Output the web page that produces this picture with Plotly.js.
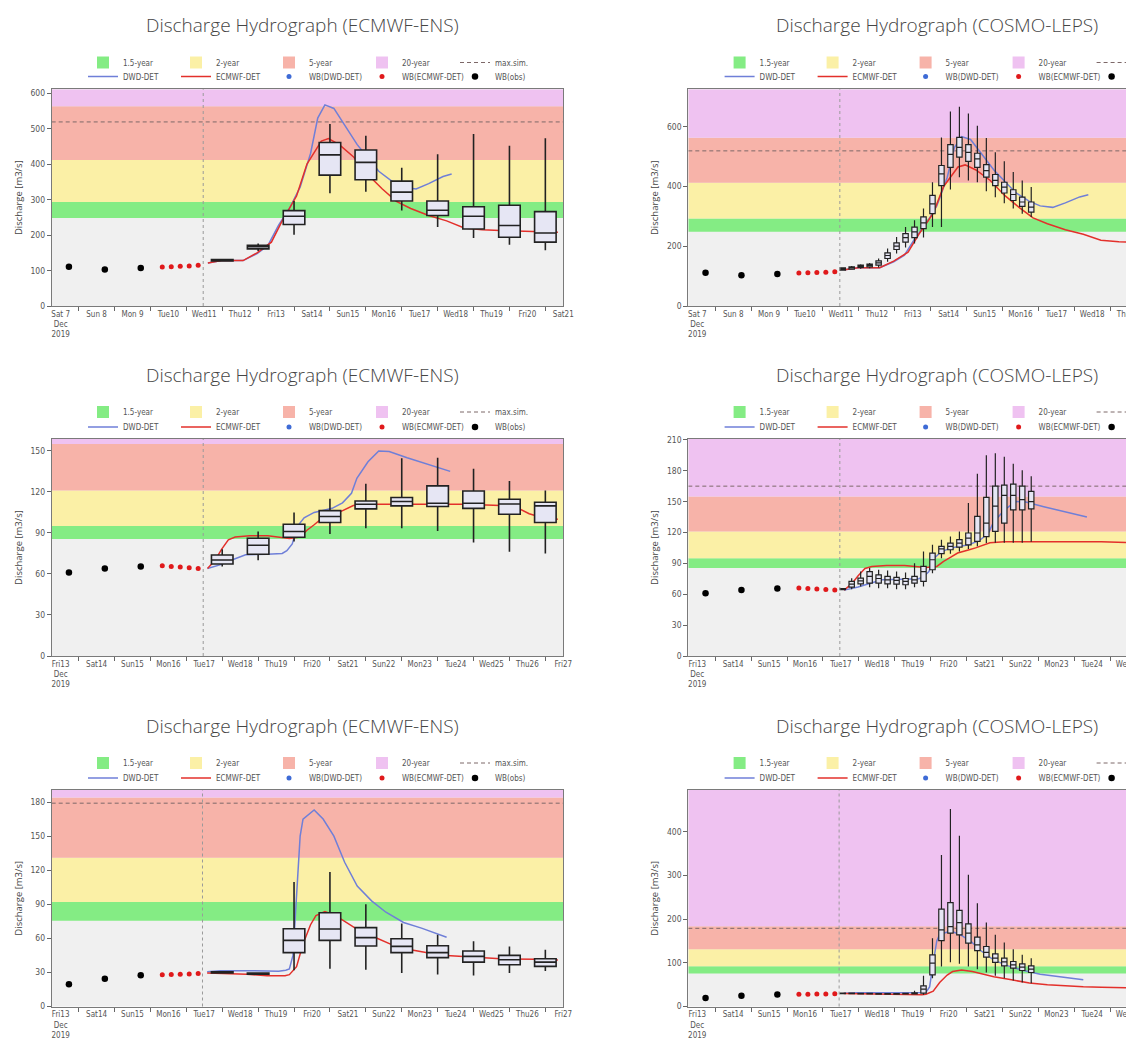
<!DOCTYPE html>
<html>
<head>
<meta charset="utf-8">
<script src="https://cdn.plot.ly/plotly-3.0.1.min.js"></script>
<style>
html, body { margin: 0; padding: 0; overflow: hidden; background: #ffffff; }
#chart { width: 1200px; height: 1039px; }
</style>
</head>
<body>
<div id="chart"></div>
<script>
// ---------------- DATA (x values are days since the first labelled day, 00:00) ----------------
const dayLabelsA = ["Sat 7<br>Dec<br>2019", "Sun 8", "Mon 9", "Tue10", "Wed11", "Thu12", "Fri13", "Sat14", "Sun15", "Mon16", "Tue17", "Wed18", "Thu19", "Fri20", "Sat21"];
const dayLabelsB = ["Fri13<br>Dec<br>2019", "Sat14", "Sun15", "Mon16", "Tue17", "Wed18", "Thu19", "Fri20", "Sat21", "Sun22", "Mon23", "Tue24", "Wed25", "Thu26", "Fri27"];

const bandNames = ["1.5-year", "2-year", "5-year", "20-year"];
const forecastStart = [4.22, 4.22, 4.2];

const obsDays = [0.48, 1.48, 2.48];
const wbDays = [3.08, 3.33, 3.58, 3.83, 4.08];
const ensDays = [4.75, 5.75, 6.75, 7.75, 8.75, 9.75, 10.75, 11.75, 12.75, 13.75];
const cosmoDays = [4.30, 4.55, 4.80, 5.05, 5.30, 5.55, 5.80, 6.05, 6.30, 6.55, 6.80, 7.05, 7.30, 7.55, 7.80, 8.05, 8.30, 8.55, 8.80, 9.05, 9.30, 9.55];

// ----- Station A (top row) -----
const thresholdsA = [248, 293, 412, 563];
const maxSimA = 519;
const obsA = [111, 103, 107];
const wbEcmA = [110, 111, 112, 113, 115];
const wbDwdA = [];
const dwdDaysA = [4.35, 4.73, 5.33, 5.72, 6.02, 6.32, 6.62, 6.92, 7.21, 7.41, 7.61, 7.86, 8.16, 8.51, 8.71, 9.11, 9.50, 9.80, 10.15, 10.50, 10.90, 11.14];
const dwdA = [121, 128, 128, 148, 170, 228, 275, 335, 430, 530, 567, 557, 510, 455, 430, 380, 350, 335, 330, 345, 365, 372];
const ecmDaysA = [4.35, 4.73, 5.33, 5.72, 6.12, 6.42, 6.82, 7.11, 7.51, 7.71, 8.01, 8.41, 8.81, 9.21, 9.60, 10.00, 10.50, 11.00, 11.49, 11.99, 12.49, 12.98, 13.48, 14.10];
const ecmA = [121, 128, 128, 150, 180, 240, 310, 400, 465, 472, 455, 420, 370, 330, 295, 275, 255, 240, 220, 215, 213, 212, 210, 208];
const ensLoA  = [125, 155, 201, 318, 322, 269, 223, 192, 173, 157];
const ensQ1A  = [127, 161, 230, 369, 356, 296, 255, 217, 194, 180];
const ensMedA = [129, 167, 253, 426, 405, 321, 270, 253, 227, 206];
const ensQ3A  = [131, 171, 269, 461, 440, 352, 296, 280, 284, 266];
const ensHiA  = [133, 176, 296, 513, 480, 390, 428, 485, 452, 473];
const cosLoA  = [118, 121, 125, 126, 129, 148, 176, 196, 209, 229, 264, 264, 390, 431, 420, 414, 384, 364, 344, 326, 309, 298];
const cosQ1A  = [120, 123, 129, 131, 137, 159, 189, 214, 229, 259, 309, 403, 464, 498, 484, 464, 431, 403, 378, 353, 333, 314];
const cosMedA = [124, 128, 133, 136, 144, 169, 200, 229, 248, 278, 342, 442, 507, 531, 514, 492, 453, 420, 398, 373, 348, 331];
const cosQ3A  = [128, 131, 137, 140, 151, 178, 211, 242, 264, 298, 370, 470, 540, 564, 540, 511, 473, 440, 414, 389, 364, 348];
const cosHiA  = [130, 134, 140, 144, 159, 192, 231, 264, 287, 326, 414, 564, 651, 667, 644, 603, 562, 514, 484, 448, 420, 398];

// ----- Station B (middle row) -----
const thresholdsB = [85.5, 95, 121, 155];
const maxSimB = 165;
const obsB = [61, 64, 65.5];
const wbEcmB = [66, 65.5, 65, 64.5, 64];
const wbDwdB = [];
const dwdDaysB = [4.34, 4.73, 5.0, 5.4, 6.0, 6.42, 6.55, 6.7, 6.85, 7.03, 7.31, 7.81, 8.1, 8.35, 8.5, 8.81, 9.11, 9.4, 9.9, 10.5, 11.1];
const dwdB = [64, 67, 70, 74, 74.5, 75, 77, 82, 95, 101, 105, 108, 112, 119, 130, 142, 150, 149.5, 145, 140, 135];
const ecmDaysB = [4.34, 4.55, 4.73, 4.92, 5.11, 5.52, 6.02, 6.42, 6.62, 6.92, 7.11, 7.31, 7.5, 7.8, 8.0, 8.4, 8.8, 9.5, 10.5, 11.5, 12.5, 13.0, 13.3, 13.7, 14.1];
const ecmB = [64, 70, 78, 85, 87, 88, 88, 87, 86, 87, 92, 96, 100, 103, 105, 110, 111, 111, 111, 111, 110, 108, 104, 101, 100];
const ensLoB  = [65.4, 70, 83.7, 89.3, 93.4, 93.4, 91.5, 83, 76.3, 75];
const ensQ1B  = [67.3, 74.4, 86.8, 97.6, 107.6, 109.8, 109.3, 108, 103.7, 97.6];
const ensMedB = [70.2, 81, 91, 102, 111, 113, 111.7, 111.7, 111.2, 109.8];
const ensQ3B  = [73.9, 86.1, 96.3, 106.3, 113.4, 115.9, 124.4, 120.7, 114.6, 112.4];
const ensHiB  = [78, 91, 105, 115, 126, 144.6, 145, 137, 128, 121];
const cosLoB  = [64, 64.9, 67.5, 66.9, 65.9, 65.9, 64.9, 64.9, 66.9, 67.5, 80.5, 95, 99.4, 101.6, 104, 106.5, 109.7, 110, 110, 110, 110, 111];
const cosQ1B  = [64.5, 66.9, 70.1, 70.8, 70.8, 70.1, 69.8, 69.2, 70.8, 72.4, 83.8, 99.4, 103.2, 105.8, 108, 111.4, 116, 121, 129, 142, 142, 142.9];
const cosMedB = [65, 69.8, 73, 77.3, 75.3, 74, 73.4, 72.4, 74, 82, 93.5, 104, 106.5, 109.7, 114.6, 119.5, 129, 145.5, 156, 156, 152, 150];
const cosQ3B  = [65.5, 72.4, 75.6, 82, 78.9, 77.3, 76.3, 75.3, 77.3, 87, 100, 106.5, 109.7, 113, 119.5, 135.7, 154, 165, 166, 167, 165, 160];
const cosHiB  = [66, 75.6, 82, 85.4, 83.8, 83, 82, 81, 90, 101.6, 108, 113, 116, 121, 148.7, 177, 195, 197, 193.5, 186.7, 180.5, 174.7];

// ----- Station C (bottom row) -----
const thresholdsC = [75.5, 92, 131, 184];
const maxSimC = 179;
const obsC = [19.5, 24.5, 27.5];
const wbEcmC = [28, 28.2, 28.4, 28.6, 29];
const wbDwdC = [];
const dwdDaysC = [4.33, 4.7, 5.5, 6.32, 6.52, 6.62, 6.72, 6.82, 6.92, 7.0, 7.31, 7.56, 7.86, 8.16, 8.51, 8.91, 9.31, 9.8, 10.3, 11.0];
const dwdC = [30.5, 31.5, 31.5, 31, 32, 33, 45, 100, 150, 165, 173, 165, 150, 127, 106, 93, 83, 74, 69, 61];
const ecmDaysC = [4.33, 4.7, 5.43, 6.0, 6.5, 6.62, 6.82, 7.0, 7.21, 7.36, 7.61, 7.91, 8.21, 8.51, 9.0, 9.5, 10.0, 10.5, 11.0, 11.5, 12.5, 13.5, 14.1];
const ecmC = [29.5, 29, 28.5, 27, 27, 28, 35, 55, 72, 80, 83.5, 80, 74, 68, 61, 54, 50, 47, 45, 44, 42, 41.5, 41];
const ensLoC  = [29, 28, 32, 33.2, 32.4, 29.4, 28.2, 27.4, 29.4, 31.2];
const ensQ1C  = [29.5, 28.5, 47.4, 58.2, 53.2, 47.4, 43, 39.1, 36.8, 35.3];
const ensMedC = [30, 29, 58.2, 68.2, 60.6, 52.9, 47.4, 44.1, 41.2, 39.1];
const ensQ3C  = [30.5, 29.5, 68.5, 82.6, 69.4, 59.7, 53.5, 48.8, 45, 42];
const ensHiC  = [31, 30, 109.7, 118.5, 90, 73, 63.2, 57.4, 52.9, 50];
const cosLoC  = [29, 29, 28.5, 28.5, 28, 28, 28, 28.5, 28, 26.7, 64.9, 91.6, 101.5, 97.7, 91.6, 85.5, 77.9, 70.2, 64.9, 59.5, 55, 53.4];
const cosQ1C  = [29.5, 29.5, 29, 29, 28.5, 28.5, 28.5, 29, 29, 30.5, 72.5, 151, 168, 164, 145, 128, 113, 100.8, 93, 87.8, 82.4, 77.9];
const cosMedC = [30, 30, 29.5, 29.5, 29, 29, 29, 29.5, 30, 39.7, 99.2, 175.6, 183, 192, 168, 141, 123.7, 110.7, 102.3, 95.4, 90, 85.5];
const cosQ3C  = [30.5, 30.5, 30, 30, 29.5, 29.5, 29.5, 30, 31.5, 47.3, 118.3, 222.9, 238, 220, 189, 158.8, 137.4, 120.6, 110.7, 103, 97.7, 93];
const cosHiC  = [31, 31, 30.5, 30.5, 30, 30, 30, 30.5, 36, 70.2, 156.5, 347, 452, 391, 301.5, 236.6, 192.4, 164, 146.6, 131.3, 118.3, 110.7];

// ---------------- STYLE / LAYOUT ----------------
const W = 1200, H = 1039;
const X_END = 14.25;
const bandColors = ["#84EC84", "#FBF0A6", "#F7B3A9", "#EFC2F1"];
const smallFont = "Liberation Sans Narrow, DejaVu Sans Condensed, Arial Narrow, Liberation Sans, sans-serif";
const colPx = [[51.7, 563.3], [688.3, 1200]];
const rowPx = [[89.3, 306], [439, 656], [790, 1006.5]];
const titleYPx = [25, 375, 726];
const titleXPx = [302, 937];
const legendYPx = [[62.5, 76.5], [412, 427], [763, 778]];
const legendXPx = [83, 719.6];

const stations = {
  A: {labels: dayLabelsA, thr: thresholdsA, maxSim: maxSimA, obs: obsA, wbEcm: wbEcmA, wbDwd: wbDwdA,
      dwdX: dwdDaysA, dwd: dwdA, ecmX: ecmDaysA, ecm: ecmA, fc: forecastStart[0],
      ens: [ensLoA, ensQ1A, ensMedA, ensQ3A, ensHiA], cos: [cosLoA, cosQ1A, cosMedA, cosQ3A, cosHiA]},
  B: {labels: dayLabelsB, thr: thresholdsB, maxSim: maxSimB, obs: obsB, wbEcm: wbEcmB, wbDwd: wbDwdB,
      dwdX: dwdDaysB, dwd: dwdB, ecmX: ecmDaysB, ecm: ecmB, fc: forecastStart[1],
      ens: [ensLoB, ensQ1B, ensMedB, ensQ3B, ensHiB], cos: [cosLoB, cosQ1B, cosMedB, cosQ3B, cosHiB]},
  C: {labels: dayLabelsB, thr: thresholdsC, maxSim: maxSimC, obs: obsC, wbEcm: wbEcmC, wbDwd: wbDwdC,
      dwdX: dwdDaysC, dwd: dwdC, ecmX: ecmDaysC, ecm: ecmC, fc: forecastStart[2],
      ens: [ensLoC, ensQ1C, ensMedC, ensQ3C, ensHiC], cos: [cosLoC, cosQ1C, cosMedC, cosQ3C, cosHiC]}
};

const panels = [
  {st: "A", model: "ens",   title: "Discharge Hydrograph (ECMWF-ENS)",  yTop: 611,   dtick: 100},
  {st: "A", model: "cosmo", title: "Discharge Hydrograph (COSMO-LEPS)", yTop: 725,   dtick: 200},
  {st: "B", model: "ens",   title: "Discharge Hydrograph (ECMWF-ENS)",  yTop: 158.7, dtick: 30},
  {st: "B", model: "cosmo", title: "Discharge Hydrograph (COSMO-LEPS)", yTop: 210.8, dtick: 30},
  {st: "C", model: "ens",   title: "Discharge Hydrograph (ECMWF-ENS)",  yTop: 190.6, dtick: 30},
  {st: "C", model: "cosmo", title: "Discharge Hydrograph (COSMO-LEPS)", yTop: 495.7, dtick: 100}
];

const data = [];
const layout = {
  width: W, height: H, autosize: false,
  margin: {l: 0, r: 0, t: 0, b: 0, pad: 0},
  paper_bgcolor: "#ffffff", plot_bgcolor: "#F0F0F0",
  barmode: "overlay", showlegend: true,
  annotations: [], shapes: []
};

panels.forEach((p, i) => {
  const n = i + 1;
  const col = i % 2, row = Math.floor(i / 2);
  const st = stations[p.st];
  const xa = n === 1 ? "x" : "x" + n;
  const ya = n === 1 ? "y" : "y" + n;
  const yo = "y" + (n + 6);
  const lA = (2 * n - 1) === 1 ? "legend" : "legend" + (2 * n - 1);
  const lB = "legend" + (2 * n);

  // threshold bands
  const edges = st.thr.concat([p.yTop]);
  for (let j = 0; j < 4; j++) {
    data.push({type: "bar", x: [X_END / 2], width: [X_END], base: [edges[j]], y: [edges[j + 1] - edges[j]],
      xaxis: xa, yaxis: ya, name: bandNames[j], legend: lA, hoverinfo: "skip",
      marker: {color: bandColors[j], line: {width: 0}}});
  }
  data.push({type: "scatter", mode: "lines", x: [0, X_END], y: [st.maxSim, st.maxSim], xaxis: xa, yaxis: ya,
    name: "max.sim.", legend: lA, line: {color: "#7d6868", width: 1, dash: "4px,3px"}, hoverinfo: "skip"});

  // deterministic lines and dots
  data.push({type: "scatter", mode: "lines", x: st.dwdX, y: st.dwd, xaxis: xa, yaxis: ya,
    name: "DWD-DET", legend: lB, line: {color: "#6F7FD8", width: 1.5}, hoverinfo: "skip"});
  data.push({type: "scatter", mode: "lines", x: st.ecmX, y: st.ecm, xaxis: xa, yaxis: ya,
    name: "ECMWF-DET", legend: lB, line: {color: "#E3302B", width: 1.5}, hoverinfo: "skip"});
  // no WB(DWD-DET) values are shown: a single empty point keeps the legend entry
  const wbDwdX = st.wbDwd.length ? st.wbDwd.map((_, k) => wbDays[k]) : [null];
  const wbDwdY = st.wbDwd.length ? st.wbDwd : [null];
  data.push({type: "scatter", mode: "markers", x: wbDwdX, y: wbDwdY, xaxis: xa, yaxis: ya,
    name: "WB(DWD-DET)", legend: lB, marker: {color: "#3E6BD6", size: 5}, hoverinfo: "skip"});
  data.push({type: "scatter", mode: "markers", x: wbDays, y: st.wbEcm, xaxis: xa, yaxis: ya,
    name: "WB(ECMWF-DET)", legend: lB, marker: {color: "#E0191B", size: 5}, hoverinfo: "skip"});
  data.push({type: "scatter", mode: "markers", x: obsDays, y: st.obs, xaxis: xa, yaxis: ya,
    name: "WB(obs)", legend: lB, marker: {color: "#000000", size: 6.5}, hoverinfo: "skip"});

  // ensemble boxes (drawn on an overlay axis so they sit above the lines)
  const b = p.model === "ens" ? st.ens : st.cos;
  data.push({type: "box", orientation: "v", x: p.model === "ens" ? ensDays : cosmoDays,
    lowerfence: b[0], q1: b[1], median: b[2], q3: b[3], upperfence: b[4],
    xaxis: xa, yaxis: yo, showlegend: false, boxpoints: false, whiskerwidth: 0,
    width: p.model === "ens" ? 0.6 : 0.15,
    line: {color: "#222222", width: p.model === "ens" ? 1.6 : 1.2},
    fillcolor: "#E6E6F4", hoverinfo: "skip"});

  const dx = [colPx[col][0] / W, colPx[col][1] / W];
  const dy = [1 - rowPx[row][1] / H, 1 - rowPx[row][0] / H];
  const xKey = n === 1 ? "xaxis" : "xaxis" + n;
  const yKey = n === 1 ? "yaxis" : "yaxis" + n;
  layout[xKey] = {
    domain: dx, anchor: ya, range: [0, X_END], fixedrange: true,
    tickmode: "array", tickvals: st.labels.map((_, k) => k + 0.25), ticktext: st.labels,
    ticks: "", tickfont: {family: smallFont, size: 8, color: "#555555"},
    showline: true, mirror: true, linecolor: "#7a7a7a", linewidth: 1,
    showgrid: false, zeroline: false,
    minor: {tick0: 0.75, dtick: 1, ticks: "outside", ticklen: 4, tickcolor: "#666666", tickwidth: 1, showgrid: false}
  };
  layout[yKey] = {
    domain: dy, anchor: xa, range: [0, p.yTop], fixedrange: true,
    tickmode: "linear", tick0: 0, dtick: p.dtick,
    ticks: "outside", ticklen: 4, tickcolor: "#666666",
    tickfont: {family: smallFont, size: 8.5, color: "#555555"},
    showline: true, mirror: true, linecolor: "#7a7a7a", linewidth: 1,
    showgrid: false, zeroline: false,
    title: {text: "Discharge [m3/s]", standoff: 6, font: {family: "Open Sans, sans-serif", size: 9.5, color: "#444444"}}
  };
  layout["yaxis" + (n + 6)] = {overlaying: ya, anchor: xa, range: [0, p.yTop], visible: false, fixedrange: true};

  layout.shapes.push({type: "line", xref: xa, yref: ya + " domain", x0: st.fc, x1: st.fc, y0: 0, y1: 1,
    line: {color: "#9a9a9a", width: 1, dash: "dot"}, layer: "above"});

  layout.annotations.push({xref: "paper", yref: "paper", x: titleXPx[col] / W, y: 1 - titleYPx[row] / H,
    xanchor: "center", yanchor: "middle", showarrow: false, text: p.title,
    font: {family: "Open Sans, sans-serif", size: 19, weight: 300, color: "#454545"}});

  const legCommon = {orientation: "h", xanchor: "left", yanchor: "middle", entrywidth: 48, entrywidthmode: "pixels",
    itemwidth: 30, bgcolor: "rgba(0,0,0,0)", borderwidth: 0, traceorder: "normal",
    font: {family: smallFont, size: 8, color: "#555555"}};
  layout[lA] = Object.assign({}, legCommon, {x: legendXPx[col] / W, y: 1 - legendYPx[row][0] / H});
  layout[lB] = Object.assign({}, legCommon, {x: legendXPx[col] / W, y: 1 - legendYPx[row][1] / H});
});

Plotly.newPlot("chart", data, layout, {staticPlot: true, displayModeBar: false});
</script>
</body>
</html>
